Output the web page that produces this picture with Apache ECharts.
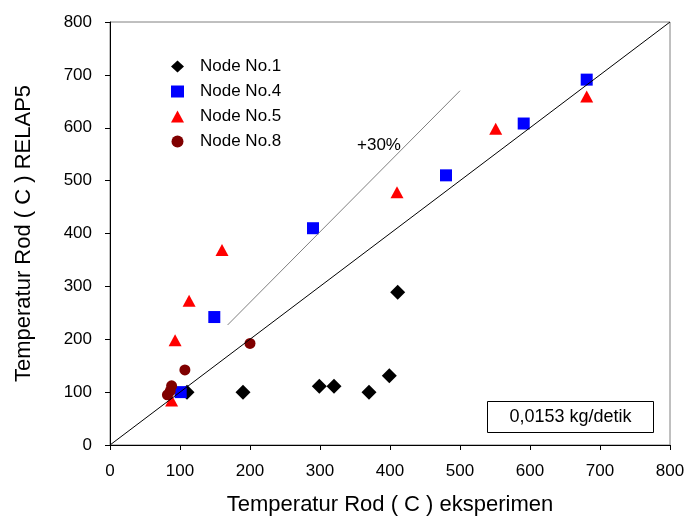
<!DOCTYPE html>
<html>
<head>
<meta charset="utf-8">
<script src="https://cdn.jsdelivr.net/npm/echarts@6/dist/echarts.min.js"></script>
<style>
  html, body { margin: 0; padding: 0; background: #fff; }
  #chart { width: 685px; height: 518px; }
</style>
</head>
<body>
<div id="chart"></div>
<script>
  // data (x = eksperimen, y = RELAP5)
  var node1X = [110, 190, 299, 320, 370, 399, 411];
  var node1Y = [100, 100, 111, 111, 100, 131, 289];
  var node4X = [101, 149, 290, 480, 591, 681];
  var node4Y = [100, 242, 410, 510, 608, 691];
  var node5X = [88, 93, 113, 160, 410, 551, 681];
  var node5Y = [84, 198, 273, 369, 478, 598, 659];
  var node8X = [200, 107, 88, 82, 86];
  var node8Y = [192, 142, 112, 95, 102];
  var lineX = [0, 800];
  var lineY = [0, 800];
  var plus30X = [168, 500];
  var plus30Y = [227, 670];

  function pts(xs, ys) {
    var out = [];
    for (var i = 0; i < xs.length; i++) {
      out.push([xs[i], ys[i]]);
    }
    return out;
  }

  var font = 'Liberation Sans, Arial, sans-serif';
  var myChart = echarts.init(document.getElementById('chart'));

  var option = {
    backgroundColor: '#fff',
    animation: false,
    grid: {
      left: 110, right: 15, top: 22, bottom: 73,
      outerBoundsMode: 'none', containLabel: false,
      show: true, borderColor: '#808080', borderWidth: 1
    },
    legend: {
      orient: 'vertical',
      left: 166, top: 53,
      itemWidth: 13, itemHeight: 12,
      itemGap: 8,
      textStyle: { fontFamily: font, fontSize: 17, color: '#000', padding: [0, 0, 0, 11] },
      data: [
        { name: 'Node No.1', icon: 'diamond' },
        { name: 'Node No.4', icon: 'rect' },
        { name: 'Node No.5', icon: 'triangle' },
        { name: 'Node No.8', icon: 'circle' }
      ]
    },
    xAxis: {
      type: 'value', min: 0, max: 800, interval: 100,
      name: 'Temperatur Rod ( C ) eksperimen',
      nameLocation: 'middle', nameGap: 49,
      nameTextStyle: { fontFamily: font, fontSize: 22, color: '#000' },
      axisLine: { show: true, lineStyle: { color: '#000', width: 1 } },
      axisTick: { show: true, length: 5, lineStyle: { color: '#000' } },
      axisLabel: { fontFamily: font, fontSize: 17, color: '#000', margin: 18 },
      splitLine: { show: false }
    },
    yAxis: {
      type: 'value', min: 0, max: 800, interval: 100,
      name: 'Temperatur Rod ( C ) RELAP5',
      nameLocation: 'middle', nameGap: 75,
      nameTextStyle: { fontFamily: font, fontSize: 22, color: '#000' },
      axisLine: { show: true, lineStyle: { color: '#000', width: 1 } },
      axisTick: { show: true, length: 5, lineStyle: { color: '#000' } },
      axisLabel: { fontFamily: font, fontSize: 17, color: '#000', margin: 18 },
      splitLine: { show: false }
    },
    series: [
      {
        name: '1:1', type: 'line', data: pts(lineX, lineY),
        symbol: 'none', silent: true,
        lineStyle: { color: '#000', width: 1 }
      },
      {
        name: '+30%', type: 'line', data: pts(plus30X, plus30Y),
        symbol: 'none', silent: true,
        lineStyle: { color: '#808080', width: 1 }
      },
      {
        name: 'Node No.1', type: 'scatter', data: pts(node1X, node1Y),
        symbol: 'diamond', symbolSize: 15,
        itemStyle: { color: '#000', opacity: 1 }
      },
      {
        name: 'Node No.4', type: 'scatter', data: pts(node4X, node4Y),
        symbol: 'rect', symbolSize: 12,
        itemStyle: { color: '#0000ff', opacity: 1 }
      },
      {
        name: 'Node No.5', type: 'scatter', data: pts(node5X, node5Y),
        symbol: 'triangle', symbolSize: [13, 12],
        itemStyle: { color: '#ff0000', opacity: 1 }
      },
      {
        name: 'Node No.8', type: 'scatter', data: pts(node8X, node8Y),
        symbol: 'circle', symbolSize: 11,
        itemStyle: { color: '#800000', opacity: 1 }
      }
    ],
    graphic: [
      {
        type: 'text', left: 357, top: 137,
        style: { text: '+30%', font: '17px ' + font, fill: '#000' }
      },
      {
        type: 'group', left: 487, top: 401,
        children: [
          {
            type: 'rect', shape: { x: 0, y: 0, width: 166, height: 31 },
            style: { fill: '#fff', stroke: '#000', lineWidth: 1 }
          },
          {
            type: 'text', x: 83, y: 16,
            style: { text: '0,0153 kg/detik', font: '18px ' + font, fill: '#000',
                     align: 'center', verticalAlign: 'middle' }
          }
        ]
      }
    ]
  };

  myChart.setOption(option);
</script>
</body>
</html>
